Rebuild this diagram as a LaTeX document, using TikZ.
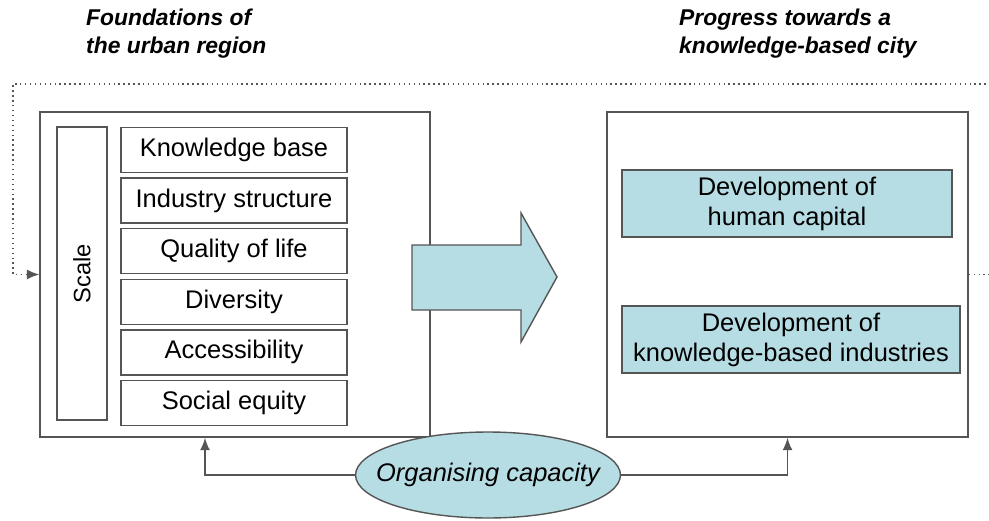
\documentclass[tikz,border=0pt]{standalone}
\usepackage{fontspec}
\setmainfont{Liberation Sans}
\usepackage{tikz}
\usetikzlibrary{shapes.geometric, arrows.meta, positioning, calc}
\definecolor{paleblue}{RGB}{183,221,228}
\definecolor{edgegray}{RGB}{85,85,85}

\begin{document}
\begin{tikzpicture}[
  x=0.02cm, y=-0.02cm,
  node distance=0.084cm,
  title/.style={anchor=north west, align=left, font=\fontsize{13}{15.9}\selectfont\bfseries\itshape},
  frame/.style={rectangle, draw=edgegray, line width=0.8pt, minimum height=6.5cm},
  item/.style={rectangle, draw=edgegray, line width=0.8pt, minimum width=4.52cm, minimum height=0.9cm, font=\fontsize{14.5}{17}\selectfont},
  goal/.style={rectangle, draw=edgegray, line width=0.8pt, fill=paleblue, minimum height=1.34cm, align=center, font=\fontsize{14.5}{17}\selectfont},
  link/.style={-{Latex[length=2.5mm,width=2mm]}, draw=edgegray, line width=1pt},
  feedback/.style={-{Latex[length=2.5mm,width=2mm]}, draw=edgegray, line width=0.8pt, dotted}
]
  \useasboundingbox (0,0) rectangle (989,520);

  \node[title] (ltitle) at (80,3) {Foundations of\\the urban region};
  \node[title] (rtitle) at (673,3) {Progress towards a\\knowledge-based city};

  \node[frame, minimum width=7.8cm] (left) at (235,274.5) {};
  \node[frame, minimum width=7.22cm] (right) at (787.5,274.5) {};

  \node[rectangle, draw=edgegray, line width=0.8pt, minimum width=1cm, minimum height=5.86cm] (scale) at (82,273.5) {};
  \node[rotate=90, font=\fontsize{13.5}{16}\selectfont] (scaletxt) at (scale.center) {Scale};

  \node[item] (know) at (234,150) {Knowledge base};
  \node[item, below=of know] (industry) {Industry structure};
  \node[item, below=of industry] (life) {Quality of life};
  \node[item, below=of life] (diversity) {Diversity};
  \node[item, below=of diversity] (access) {Accessibility};
  \node[item, below=of access] (equity) {Social equity};

  \draw[draw=edgegray, line width=0.8pt, fill=paleblue]
    (412,245) -- (521,245) -- (521,213) -- (557,277) -- (521,342) -- (521,310) -- (412,310) -- cycle;

  \node[goal, minimum width=6.6cm] (human) at (787,203.5) {Development of\\human capital};
  \node[goal, minimum width=6.76cm] (kbind) at (791,339.5) {Development of\\knowledge-based industries};

  \node[ellipse, draw=edgegray, line width=0.8pt, fill=paleblue, inner xsep=-0.375cm, inner ysep=0pt, minimum width=5.3cm, minimum height=1.72cm, font=\fontsize{14.5}{17}\selectfont\itshape] (org) at (488,475) {Organising capacity};

  \draw[link] (org.west) -| ([xshift=-0.6cm]left.south);
  \draw[link] (org.east) -| (right.south);
  \draw[feedback] (right.east) -- (1000,274.5) |- (13,84) |- (left.west);
\end{tikzpicture}
\end{document}
